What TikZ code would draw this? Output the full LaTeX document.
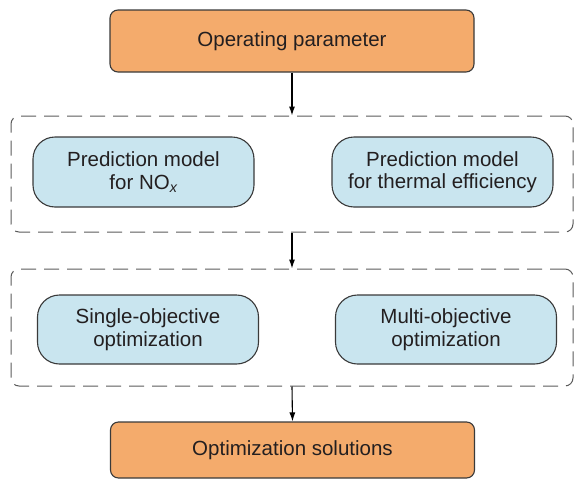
\documentclass[tikz,border=0pt]{standalone}
\usepackage{fontspec}
\setmainfont{Liberation Sans}
\usetikzlibrary{arrows.meta}
\definecolor{boxorange}{HTML}{F4AB6C}
\definecolor{boxblue}{HTML}{C9E5EF}
\definecolor{edgegray}{HTML}{3A3A3A}
\definecolor{dashgray}{HTML}{5A5A5A}
\definecolor{textgray}{HTML}{231F20}
\begin{document}
\begin{tikzpicture}[x=1pt, y=-1pt,
  every node/.style = {draw=edgegray, line width=1.1pt, align=center,
    inner sep=0pt, text=textgray, font=\fontsize{20.5}{22.5}\selectfont},
  endbox/.style = {fill=boxorange, rounded corners=8pt,
    minimum width=364pt},
  modelbox/.style = {fill=boxblue, rounded corners=22pt,
    minimum width=221pt},
  groupbox/.style = {draw=dashgray, line width=1pt, dashed,
    dash pattern=on 15pt off 8pt, rounded corners=8pt, minimum width=562pt},
  flow/.style = {draw=black, line width=1.1pt,
    -{Latex[length=9pt,width=6pt]}}]
  \useasboundingbox (0,0) rectangle (574,480);
  % input and output
  \node[endbox, minimum height=62pt] (param) at (292,41) {Operating parameter};
  \node[endbox, minimum height=56pt] (solution) at (292.5,450) {Optimization solutions};
  % prediction models
  \node[groupbox, minimum height=116pt] (predict) at (292,174) {};
  \node[modelbox, minimum height=70pt] (nox) at (143.5,172)
    {Prediction model \\ for NO\textsubscript{\itshape x}};
  \node[modelbox, minimum height=70pt] (thermal) at (442.5,172)
    {Prediction model \\ for thermal efficiency};
  % optimization
  \node[groupbox, minimum height=117pt] (optim) at (292,327.5) {};
  \node[modelbox, minimum height=69pt] (single) at (148,329.5)
    {Single-objective \\ optimization};
  \node[modelbox, minimum height=69pt] (multi) at (446,329.5)
    {Multi-objective \\ optimization};
  % arrows
  \draw[flow] (param.south) -- (predict.north);
  \draw[flow] (predict.south) -- (optim.north);
  \draw[flow] (optim.south) -- (solution.north);
\end{tikzpicture}
\end{document}
